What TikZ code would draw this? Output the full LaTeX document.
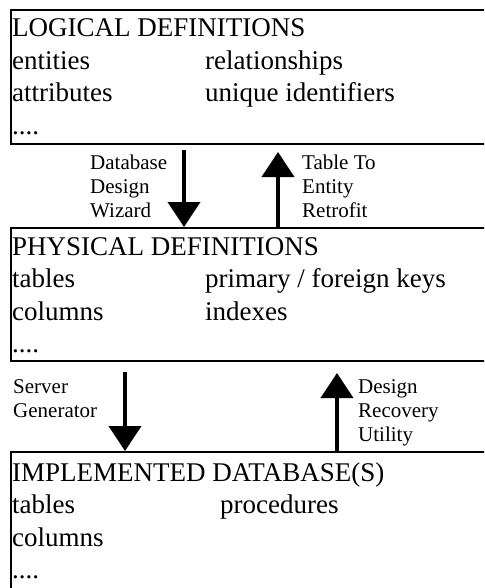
\documentclass[tikz,border=0pt]{standalone}
\usepackage{fontspec}
\setmainfont{Liberation Serif}
\usetikzlibrary{arrows.meta}

\tikzset{
	box/.style={draw,line width=1.8pt,rectangle,anchor=north west,minimum width=520pt,inner sep=0pt},
	boxtext/.style={anchor=base west,inner sep=0pt,font=\fontsize{27}{32.5}\selectfont},
	tooltext/.style={anchor=base west,inner sep=0pt,font=\fontsize{21}{24}\selectfont},
	flow/.style={line width=4pt,-{Triangle[width=32pt,length=25pt]}}
}

\begin{document}
\begin{tikzpicture}[x=1pt,y=1pt]
	\useasboundingbox (0,0) rectangle (484,-588);
	\clip (0,0) rectangle (484,-588);
	% logical level
		\node[box,minimum height=134pt] (logical) at (10,-9) {};
		\node[boxtext] (logtext) at (12,-37) {\begin{tabular}[t]{@{}p{193pt}@{}l@{}}
			\multicolumn{2}{@{}l@{}}{LOGICAL DEFINITIONS}\\
			entities & relationships\\
			attributes & unique identifiers\\
			....
		\end{tabular}};
	% physical level
		\node[box,minimum height=133pt] (physical) at (10,-227) {};
		\node[boxtext] (phystext) at (12,-255) {\begin{tabular}[t]{@{}p{193pt}@{}l@{}}
			\multicolumn{2}{@{}l@{}}{PHYSICAL DEFINITIONS}\\
			tables & primary / foreign keys\\
			columns & indexes\\
			....
		\end{tabular}};
	% implemented level
		\node[box,minimum height=200pt] (implemented) at (10,-451) {};
		\node[boxtext] (impltext) at (12,-481) {\begin{tabular}[t]{@{}p{208pt}@{}l@{}}
			\multicolumn{2}{@{}l@{}}{IMPLEMENTED DATABASE(S)}\\
			tables & procedures\\
			columns\\
			....
		\end{tabular}};
	% logical <-> physical
		\coordinate (wizard) at (184,-150);
		\coordinate (retrofit) at (278,-152);
		\draw[flow] (wizard) -- (wizard |- physical.north);
		\draw[flow] (retrofit |- physical.north) -- (retrofit);
		\node[tooltext] (wizardtext) at (90,-169) {\begin{tabular}[t]{@{}l@{}}Database\\Design\\Wizard\end{tabular}};
		\node[tooltext] (retrofittext) at (302,-169) {\begin{tabular}[t]{@{}l@{}}Table To\\Entity\\Retrofit\end{tabular}};
	% physical <-> implemented
		\coordinate (generator) at (125,-372);
		\coordinate (recovery) at (337,-373);
		\draw[flow] (generator) -- (generator |- implemented.north);
		\draw[flow] (recovery |- implemented.north) -- (recovery);
		\node[tooltext] (generatortext) at (13,-393) {\begin{tabular}[t]{@{}l@{}}Server\\Generator\end{tabular}};
		\node[tooltext] (recoverytext) at (358,-393) {\begin{tabular}[t]{@{}l@{}}Design\\Recovery\\Utility\end{tabular}};
\end{tikzpicture}
\end{document}
